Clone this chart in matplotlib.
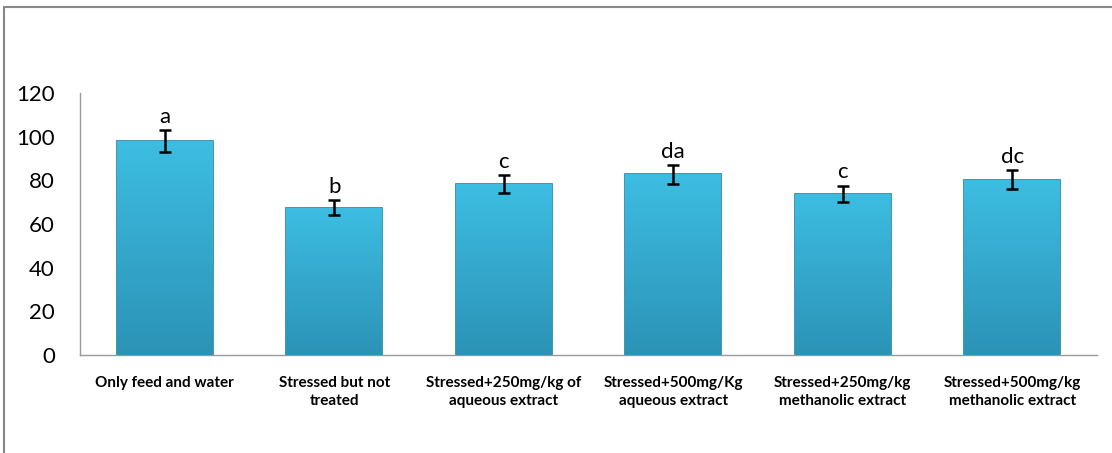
import matplotlib
matplotlib.use('Agg')
import matplotlib.pyplot as plt
import numpy as np
from matplotlib.patches import Rectangle

groups = ['Only feed and water', 'Stressed but not\ntreated',
          'Stressed+250mg/kg of\naqueous extract', 'Stressed+500mg/Kg\naqueous extract',
          'Stressed+250mg/kg\nmethanolic extract', 'Stressed+500mg/kg\nmethanolic extract']
means = [98, 67.5, 78.3, 82.7, 73.8, 80.3]
errors = [5, 3.5, 4, 4.3, 3.8, 4.3]
letters = ['a', 'b', 'c', 'da', 'c', 'dc']

fig = plt.figure(figsize=(11.12, 4.53), dpi=100)
ax = fig.add_axes([0.0719, 0.2163, 0.9146, 0.5784])

x = range(len(groups))
bars = ax.bar(x, means, width=0.566, color='#34AED4', edgecolor='#22809E', linewidth=1.2,
              yerr=errors, capsize=4.5, zorder=2,
              error_kw={'elinewidth': 1.8, 'capthick': 1.8, 'ecolor': 'black', 'zorder': 4})

# vertical gradient inside each bar, lighter at the top
grad = np.linspace(1, 0, 256).reshape(-1, 1)
cmap = matplotlib.colors.LinearSegmentedColormap.from_list('bar', ['#2B93B6', '#3DBDE2'])
for b in bars:
    x0, w, h = b.get_x(), b.get_width(), b.get_height()
    im = ax.imshow(grad, cmap=cmap, extent=(x0, x0 + w, 0, h), aspect='auto', zorder=3)
    im.set_clip_path(b)

# significance letters above the error bars
for i in x:
    ax.text(i, means[i] + errors[i] + 1.5, letters[i], ha='center', va='bottom',
            fontsize=16, family='Lato')

ax.set_xlim(-0.5, len(groups) - 0.5)
ax.set_ylim(0, 120)
ax.set_yticks(range(0, 121, 20))
ax.set_xticks(list(x))
ax.set_xticklabels(groups, fontsize=11, fontweight='bold', family='Lato', linespacing=1.35)
ax.tick_params(axis='x', length=0, pad=15)
ax.tick_params(axis='y', length=0, pad=18, labelsize=16)
for lab in ax.get_yticklabels():
    lab.set_family('Lato')

for s in ['top', 'right']:
    ax.spines[s].set_visible(False)
for s in ['left', 'bottom']:
    ax.spines[s].set_color('#999999')
    ax.spines[s].set_linewidth(1)

# outer chart frame (only left and top edges visible in the image)
fig.patches.append(Rectangle((4 / 1112, -0.1), 1.2, 1 - 7 / 453 + 0.1, transform=fig.transFigure,
                             fill=False, edgecolor='#888888', linewidth=1.5))

fig.savefig('out.png', dpi=100)
